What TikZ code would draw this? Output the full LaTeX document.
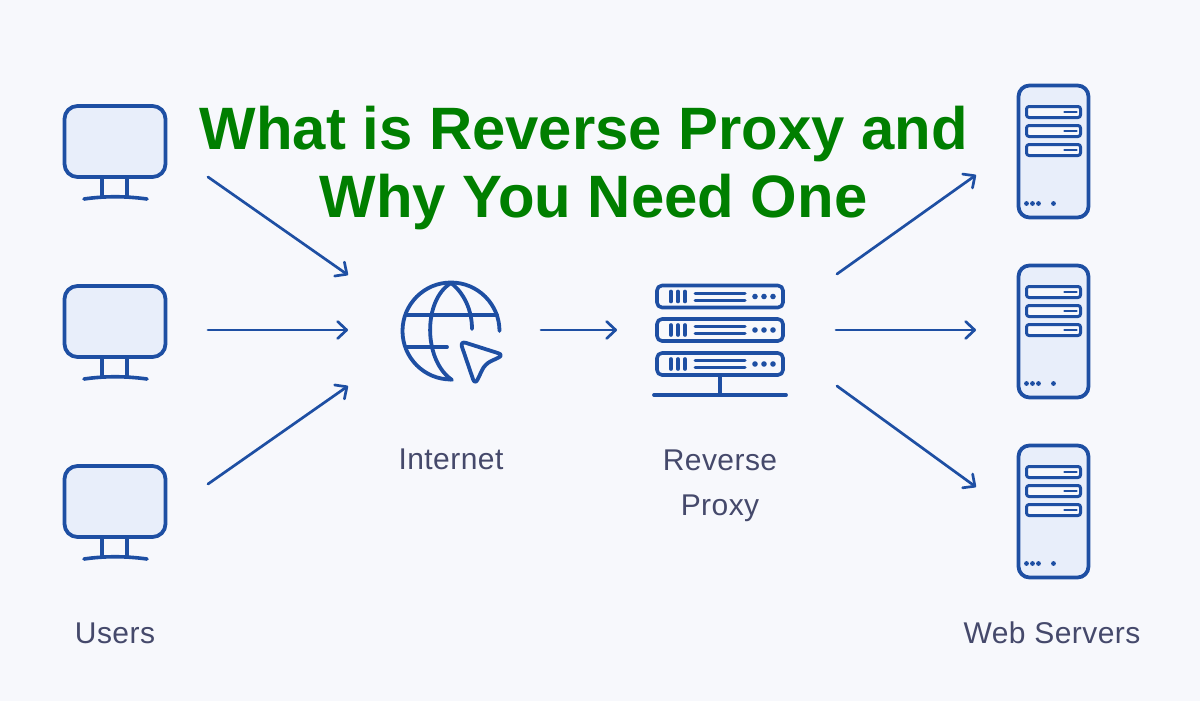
\documentclass[tikz,border=0pt]{standalone}
\usepackage{fontspec}
\setmainfont{Liberation Sans}
\newfontfamily\labelfont[LetterSpace=1.5]{Liberation Sans}
\usetikzlibrary{arrows.meta}
\definecolor{bgc}{HTML}{F7F8FC}
\definecolor{ink}{HTML}{1E4FA3}
\definecolor{fillc}{HTML}{E8EEFA}
\definecolor{txt}{HTML}{45496B}
\definecolor{ttl}{HTML}{007F00}
\tikzset{
  x=1pt,y=-1pt,
  icon/.style={draw=ink,line width=3.8pt,line cap=round,line join=round},
  thin icon/.style={draw=ink,line width=3pt,line cap=round,line join=round},
  link/.style={draw=ink,line width=2.7pt,line cap=round,
     -{Straight Barb[length=9pt,width=17pt,line width=2.7pt,round]}},
  lab/.style={font=\labelfont\fontsize{30}{45}\selectfont,text=txt,align=center,inner sep=0pt},
  ttlstyle/.style={font=\bfseries\fontsize{59.85}{68}\selectfont,text=ttl,align=center,inner sep=0pt},
  pics/monitor/.style={code={
    \path[icon,fill=fillc,rounded corners=13pt] (-50.5,-55) rectangle (50.5,16);
    \path[icon,line width=3.6pt] (-13,17) -- (-13,36) (12,17) -- (12,36);
    \path[icon,line width=3.6pt] (-31,38) .. controls (-10,35) and (10,35) .. (32,38);
  }},
  pics/tower/.style={code={
    \path[icon,fill=fillc,rounded corners=11pt] (-35,-66) rectangle (35,66);
    \foreach \yy in {-39.5,-20.5,-1.5}{
      \path[thin icon,fill=bgc,rounded corners=2.5pt] (-27,\yy-5.5) rectangle (27,\yy+5.5);
      \path[thin icon,line width=2.6pt] (11,\yy) -- (23,\yy);
    }
    \foreach \xx in {-27,-21,-15,0}{
      \fill[ink] (\xx,52) circle (2.4pt);
    }
  }},
  pics/rack/.style={code={
    \path[thin icon,line width=3.6pt,rounded corners=5pt,fill=bgc] (-63,-11) rectangle (63,11);
    \foreach \xx in {-49,-42,-35}{\path[thin icon,line width=3.6pt] (\xx,-5) -- (\xx,5);}
    \path[thin icon] (-25,-3.5) -- (25,-3.5) (-25,3.5) -- (25,3.5);
    \foreach \xx in {35,44,53}{\fill[ink] (\xx,0) circle (2.8pt);}
  }}
}
\begin{document}
\begin{tikzpicture}
\useasboundingbox (0,0) rectangle (1200,701);
\fill[bgc] (0,0) rectangle (1200,701);

\pic at (115,161) {monitor};
\pic at (115,341) {monitor};
\pic at (115,521) {monitor};

\pic at (1053.5,151.5) {tower};
\pic at (1053.5,331.5) {tower};
\pic at (1053.5,511.5) {tower};

% globe
\path[icon] (451,379.5) arc[start angle=90,end angle=360,radius=48.5];
\path[icon] (451,283) .. controls (423,300) and (423,360) .. (452,380);
\path[icon] (451,283) .. controls (464,293) and (472,310) .. (472,329);
\path[icon] (407,315) -- (497,315);
\path[icon] (407,347) -- (447,347);
\path[icon,rounded corners=6pt] (460,341) -- (504,355) -- (485,364) -- (475,385) -- cycle;

% rack
\pic at (720,296.5) {rack};
\pic at (720,330) {rack};
\pic at (720,364) {rack};
\path[icon] (720,376) -- (720,395);
\path[icon] (654,395) -- (786,395);

% anchors
\coordinate (u1) at (208,177);
\coordinate (u2) at (208,330);
\coordinate (u3) at (208,484);
\coordinate (i1) at (348,275);
\coordinate (i2) at (348,330);
\coordinate (i3) at (348,386);
\coordinate (io) at (541,330);
\coordinate (pi) at (617,330);
\coordinate (p1) at (837,274);
\coordinate (p2) at (836,330);
\coordinate (p3) at (837,386);
\coordinate (s1) at (976,175);
\coordinate (s2) at (976,330);
\coordinate (s3) at (976,487);

\draw[link] (u1) -- (i1);
\draw[link] (u2) -- (i2);
\draw[link] (u3) -- (i3);
\draw[link] (io) -- (pi);
\draw[link] (p1) -- (s1);
\draw[link] (p2) -- (s2);
\draw[link] (p3) -- (s3);

\node[lab] (users) at (115,633) {Users};
\node[lab] (internet) at (451,459) {Internet};
\node[lab] (proxy) at (720,486) {Reverse\\Proxy};
\node[lab] (servers) at (1052,633) {Web Servers};
\node[ttlstyle] (title) at (584,168) {What is Reverse Proxy and\\\hspace*{19pt}Why You Need One};
\end{tikzpicture}
\end{document}
